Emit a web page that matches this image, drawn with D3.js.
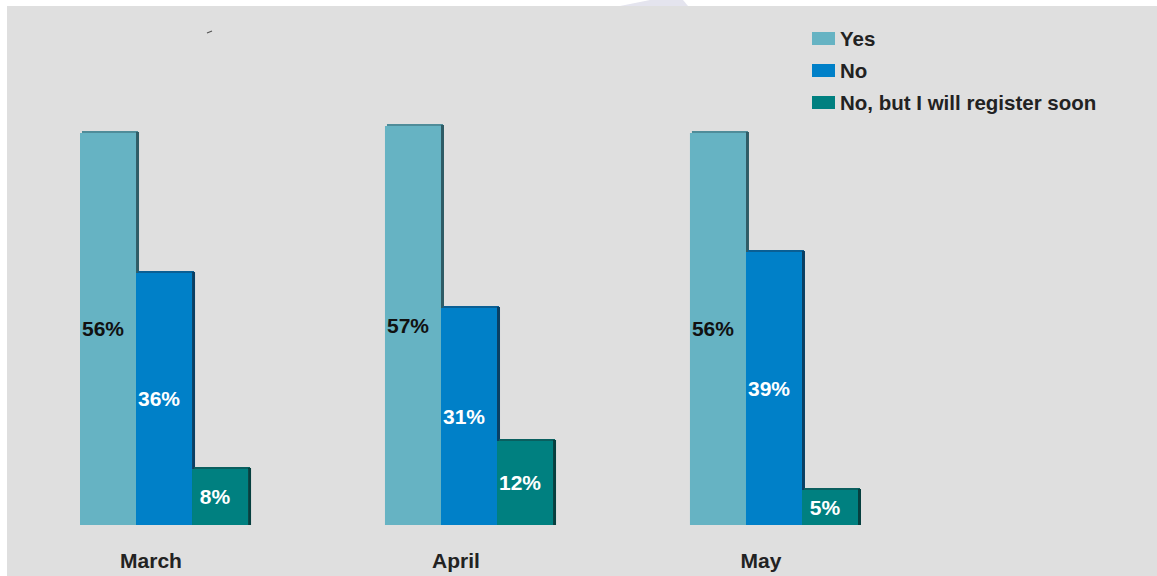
<!DOCTYPE html>
<html>
<head>
<meta charset="utf-8">
<script src="https://cdn.jsdelivr.net/npm/d3@7"></script>
<style>
body { margin: 0; background: #fff; }
text { font-family: "Liberation Sans", Arial, sans-serif; font-weight: bold; }
</style>
</head>
<body>
<script>
//chart data
var months = ["March", "April", "May"];
var seriesNames = ["Yes", "No", "No, but I will register soon"];
var yesValues = [56, 57, 56];
var noValues = [36, 31, 39];
var soonValues = [8, 12, 5];

var colors = ["#66b3c3", "#0080c8", "#008080"];
var topShades = ["#4f8c99", "#0a5f94", "#0a5f5f"];
var sideShades = ["#2f5c66", "#0a3f63", "#063f3f"];
var labelColors = ["#111", "#fff", "#fff"];

var width = 1157, height = 576;

var svg = d3.select("body").append("svg")
    .attr("width", width)
    .attr("height", height);

//gray plot background
svg.append("rect")
    .attr("x", 7).attr("y", 6)
    .attr("width", width - 7).attr("height", height - 6)
    .attr("fill", "#dfdfdf");

//faint shape at top edge
svg.append("path")
    .attr("d", "M620,6 L650,0 L683,0 L688,6 Z")
    .attr("fill", "#e4e4ee");

//small stray mark
svg.append("path")
    .attr("d", "M207,33 L212,31")
    .attr("stroke", "#555").attr("stroke-width", 1.2);

//build rows from the arrays
var rows = months.map(function(m, i){
    return {month: m, values: [yesValues[i], noValues[i], soonValues[i]]};
});

var x0 = d3.scaleBand()
    .domain(months)
    .range([80, 858])
    .paddingInner(0.449)
    .paddingOuter(0);

var x1 = d3.scaleBand()
    .domain(d3.range(seriesNames.length))
    .range([0, x0.bandwidth()]);

var y = d3.scaleLinear()
    .domain([0, 60])
    .range([525, 105]);

var groups = svg.selectAll(".group")
    .data(rows)
    .enter()
    .append("g")
    .attr("class", "group")
    .attr("transform", function(d){ return "translate(" + x0(d.month) + ",0)"; });

var bars = groups.selectAll(".bar")
    .data(function(d){ return d.values.map(function(v, k){ return {k: k, v: v}; }); })
    .enter()
    .append("g")
    .attr("class", "bar");

//shadow strips (top and right)
bars.append("rect")
    .attr("x", function(d){ return x1(d.k) + 2; })
    .attr("y", function(d){ return y(d.v) - 2; })
    .attr("width", x1.bandwidth())
    .attr("height", 2)
    .attr("fill", function(d){ return topShades[d.k]; });

bars.append("rect")
    .attr("x", function(d){ return x1(d.k) + x1.bandwidth(); })
    .attr("y", function(d){ return y(d.v) - 1; })
    .attr("width", 3)
    .attr("height", function(d){ return y(0) - y(d.v) + 1; })
    .attr("fill", function(d){ return sideShades[d.k]; });

bars.append("rect")
    .attr("x", function(d){ return x1(d.k); })
    .attr("y", function(d){ return y(d.v); })
    .attr("width", x1.bandwidth())
    .attr("height", function(d){ return y(0) - y(d.v); })
    .attr("fill", function(d){ return colors[d.k]; });

//value labels
bars.append("text")
    .attr("x", function(d){ return x1(d.k) + x1.bandwidth() / 2 - 5; })
    .attr("y", function(d){ return (y(d.v) + y(0)) / 2 + 7; })
    .attr("text-anchor", "middle")
    .attr("font-size", "21px")
    .attr("fill", function(d){ return labelColors[d.k]; })
    .text(function(d){ return d.v + "%"; });

//category labels
svg.selectAll(".month")
    .data(months)
    .enter()
    .append("text")
    .attr("class", "month")
    .attr("x", function(d){ return x0(d) + x0.bandwidth() / 2 - 13; })
    .attr("y", 568)
    .attr("text-anchor", "middle")
    .attr("font-size", "21px")
    .attr("fill", "#222")
    .text(function(d){ return d; });

//legend
var legend = svg.selectAll(".legend")
    .data(seriesNames)
    .enter()
    .append("g")
    .attr("class", "legend")
    .attr("transform", function(d, i){ return "translate(812," + (32 + i * 32) + ")"; });

legend.append("rect")
    .attr("width", 23).attr("height", 13)
    .attr("fill", function(d, i){ return colors[i]; });

legend.append("text")
    .attr("x", 28).attr("y", 14)
    .attr("font-size", "20.5px")
    .attr("fill", "#222")
    .text(function(d){ return d; });
</script>
</body>
</html>
